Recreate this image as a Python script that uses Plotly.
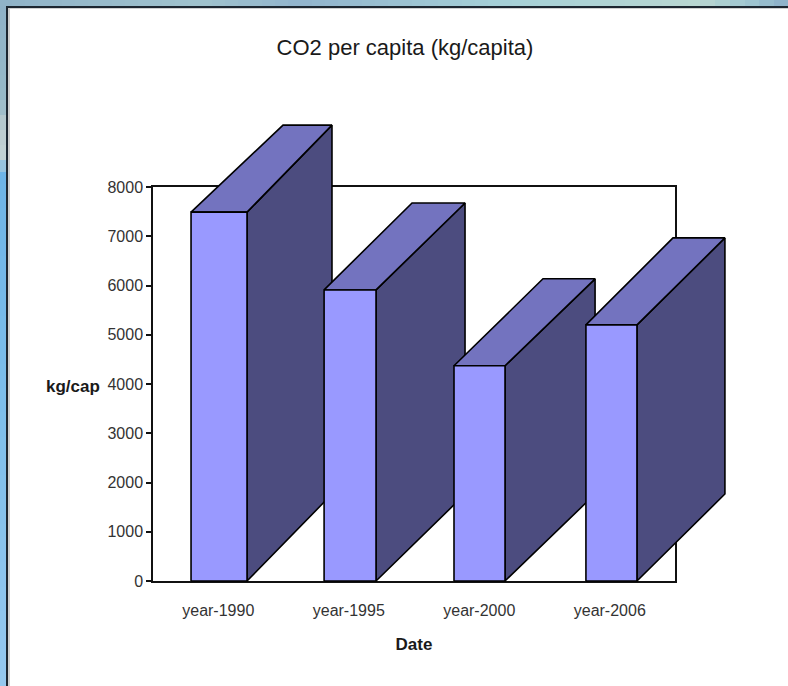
import plotly.graph_objects as go

categories = ["year-1990", "year-1995", "year-2000", "year-2006"]
co2_per_capita = [7490, 5910, 4370, 5200]
y_ticks = [0, 1000, 2000, 3000, 4000, 5000, 6000, 7000, 8000]

# styling / geometry of the pseudo-3D look
bar_width = [0.429, 0.398, 0.391, 0.391]
bar_shift = [0.006, 0.010, 0.002, 0.013]
depth_x = [0.651, 0.682, 0.690, 0.674]
depth_x_left = [0.705, 0.674, 0.682, 0.667]
depth_y = 1766
FRONT, TOP, SIDE = "#9999FF", "#7373BF", "#4C4C7F"
W, H = 788, 686
L, R, T, B = 153, 675, 187, 581


def px(x):
    return x / W


def py(y):
    return 1 - y / H


def lerp(c1, c2, t):
    return "rgb(%d,%d,%d)" % tuple(round(a + (b - a) * t) for a, b in zip(c1, c2))


shapes = []
def band(x0, y0, x1, y1, color):
    shapes.append(dict(type="rect", xref="paper", yref="paper", x0=px(x0), x1=px(x1),
                       y0=py(y0), y1=py(y1), fillcolor=color, line_width=0, layer="below"))


# backdrop visible around the white panel (each piece overlaps the next to hide seams)
left_stops = [(0, (143, 178, 200)), (100, (150, 185, 200)), (130, (190, 205, 208)),
              (160, (195, 210, 212)), (172, (110, 180, 230)), (400, (125, 190, 235)), (686, (150, 200, 238))]
for (y0, c0), (y1, c1) in zip(left_stops, left_stops[1:]):
    n = max(1, (y1 - y0) // 12)
    for i in range(n):
        band(0, round(y0 + (y1 - y0) * i / n), 7, min(H, round(y0 + (y1 - y0) * (i + 1) / n) + 1),
             lerp(c0, c1, (i + .5) / n))
top_stops = [(0, (143, 178, 200)), (200, (160, 195, 205)), (300, (145, 180, 205)), (500, (165, 208, 215)),
             (700, (185, 215, 210)), (745, (160, 200, 210)), (788, (140, 175, 200))]
for (x0, c0), (x1, c1) in zip(top_stops, top_stops[1:]):
    n = max(1, (x1 - x0) // 12)
    for i in range(n):
        band(round(x0 + (x1 - x0) * i / n), 0, min(W, round(x0 + (x1 - x0) * (i + 1) / n) + 1), 6,
             lerp(c0, c1, (i + .5) / n))
band(6, 6, 788, 8, "#1c2630")
band(6, 6, 8, 686, "#1c2630")
band(8, 8, 788, 9, "#d0d0d0")
band(8, 8, 10, 686, "#d0d0d0")

fig = go.Figure()


def face(xs, ys, color):
    fig.add_trace(go.Scatter(x=xs, y=ys, mode="lines", fill="toself", fillcolor=color, xaxis="x2", yaxis="y2",
                             line=dict(color="#000000", width=1.6), cliponaxis=False,
                             hoverinfo="skip", showlegend=False))


# invisible anchor so that the framed axes exist
fig.add_trace(go.Scatter(x=[0, 3], y=[0, 0], mode="lines", line=dict(width=0), hoverinfo="skip", showlegend=False))

for i, v in enumerate(co2_per_capita):
    a = i + bar_shift[i] - bar_width[i] / 2
    b = i + bar_shift[i] + bar_width[i] / 2
    d = depth_x[i]
    face([b, b + d, b + d, b, b], [0, depth_y, v + depth_y, v, 0], SIDE)
    face([a, a + depth_x_left[i], b + d, b, a], [v, v + depth_y, v + depth_y, v, v], TOP)
    face([a, b, b, a, a], [0, 0, v, v, 0], FRONT)

FONT = "Liberation Sans, Arial"
axis_font = dict(family=FONT, size=16, color="#333333")
bold = dict(family=FONT, size=17, color="#1a1a1a")

unit_x = (R - L) / 4          # pixels per category
unit_y = (B - T) / 8000       # pixels per value unit
fig.update_layout(
    xaxis=dict(domain=[L / W, R / W], range=[-0.5, 3.5], tickmode="array", tickvals=list(range(4)),
               ticktext=categories, ticks="", showgrid=False, zeroline=False, showline=True, linecolor="#111111",
               linewidth=1.5, mirror=True, layer="below traces", tickfont=axis_font, ticklabelstandoff=14,
               title=dict(text="<b>Date</b>", font=bold, standoff=20), anchor="y", automargin=False),
    yaxis=dict(domain=[1 - B / H, 1 - T / H], range=[0, 8000], tickmode="array", tickvals=y_ticks, ticks="outside",
               ticklen=5, tickwidth=1.5, tickcolor="#111111", showgrid=False, zeroline=False, showline=True,
               linecolor="#111111", linewidth=1.5, mirror=True, layer="below traces", tickfont=axis_font,
               anchor="x", automargin=False),
    xaxis2=dict(domain=[0, 1], range=[-0.5 - L / unit_x, 3.5 + (W - R) / unit_x], visible=False, anchor="y2"),
    yaxis2=dict(domain=[0, 1], range=[-(H - B) / unit_y, B / unit_y], visible=False, anchor="x2"),
    width=W, height=H, autosize=False,
    margin=dict(l=0, r=0, t=0, b=0, pad=0),
    paper_bgcolor="#ffffff", plot_bgcolor="rgba(0,0,0,0)", showlegend=False, shapes=shapes,
    title=dict(text="CO2 per capita (kg/capita)", x=405 / W, xanchor="center", y=1 - 47 / H, yanchor="middle",
               font=dict(family=FONT, size=22, color="#1a1a1a")),
)
fig.add_annotation(text="<b>kg/cap</b>", xref="paper", yref="paper", x=px(73), y=py(386), xanchor="center",
                   yanchor="middle", showarrow=False, font=bold)
fig.write_html("out.html", config=dict(displayModeBar=False),
               post_script="document.body.style.margin='0';document.documentElement.style.overflow='hidden';")
